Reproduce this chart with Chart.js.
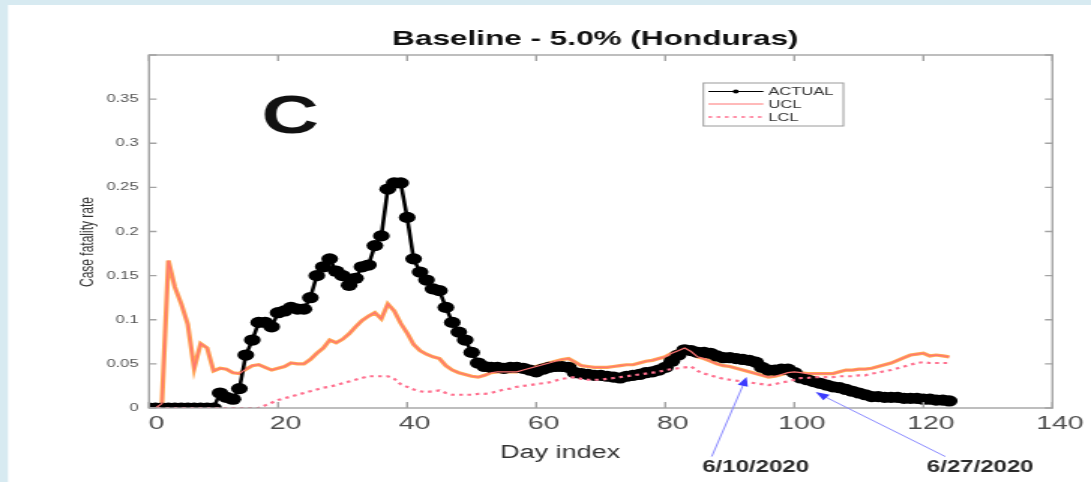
<!DOCTYPE html>
<html>
<head>
<meta charset="utf-8">
<script src="https://cdn.jsdelivr.net/npm/chart.js@4.4.1/dist/chart.umd.min.js"></script>
<style>
  html, body { margin: 0; padding: 0; background: #d7eaf1; overflow: hidden; }
  canvas { display: block; }
</style>
</head>
<body>
<!-- the source figure is stretched sideways, so draw narrow and widen with CSS -->
<canvas id="cfrChart" width="727" height="482" style="width:1091px;height:482px"></canvas>
<script>
// =======================
// Data (one value per day index)
// =======================

const ACTUAL = [
  0, 0, 0, 0, 0, 0, 0, 0, 0, 0, 0,
  0.017, 0.012, 0.010, 0.022, 0.060, 0.077, 0.097, 0.097, 0.092, 0.108,
  0.110, 0.114, 0.112, 0.112, 0.125, 0.150, 0.160, 0.169, 0.155, 0.150,
  0.139, 0.147, 0.160, 0.162, 0.184, 0.195, 0.248, 0.255, 0.255, 0.216,
  0.169, 0.154, 0.145, 0.135, 0.133, 0.114, 0.097, 0.086, 0.077, 0.063,
  0.051, 0.047, 0.046, 0.046, 0.045, 0.046, 0.046, 0.045, 0.043, 0.041,
  0.044, 0.046, 0.047, 0.047, 0.046, 0.040, 0.039, 0.038, 0.037, 0.037,
  0.036, 0.035, 0.034, 0.036, 0.037, 0.038, 0.040, 0.041, 0.043, 0.046,
  0.053, 0.060, 0.066, 0.065, 0.063, 0.063, 0.062, 0.059, 0.057, 0.057,
  0.056, 0.055, 0.054, 0.052, 0.046, 0.043, 0.043, 0.044, 0.044, 0.040,
  0.034, 0.032, 0.030, 0.028, 0.026, 0.024, 0.023, 0.021, 0.019, 0.017,
  0.015, 0.013, 0.013, 0.012, 0.012, 0.012, 0.011, 0.011, 0.011, 0.010,
  0.010, 0.009, 0.009, 0.008
];

const UCL = [
  0, 0, 0.005, 0.167, 0.137, 0.118, 0.095, 0.045, 0.073, 0.068, 0.042,
  0.045, 0.044, 0.040, 0.039, 0.044, 0.048, 0.049, 0.046, 0.043, 0.045,
  0.047, 0.051, 0.050, 0.050, 0.055, 0.062, 0.068, 0.077, 0.074, 0.078,
  0.084, 0.092, 0.099, 0.104, 0.108, 0.101, 0.118, 0.110, 0.096, 0.085,
  0.072, 0.065, 0.061, 0.058, 0.056, 0.048, 0.043, 0.040, 0.038, 0.036,
  0.035, 0.037, 0.040, 0.041, 0.041, 0.041, 0.041, 0.043, 0.045, 0.047,
  0.049, 0.051, 0.053, 0.055, 0.056, 0.052, 0.048, 0.047, 0.046, 0.046,
  0.046, 0.047, 0.048, 0.049, 0.049, 0.051, 0.053, 0.054, 0.056, 0.058,
  0.062, 0.065, 0.068, 0.064, 0.058, 0.056, 0.053, 0.050, 0.048, 0.047,
  0.045, 0.043, 0.041, 0.039, 0.037, 0.035, 0.036, 0.038, 0.040, 0.041,
  0.040, 0.039, 0.039, 0.039, 0.039, 0.039, 0.041, 0.043, 0.043, 0.044,
  0.044, 0.045, 0.047, 0.049, 0.051, 0.054, 0.057, 0.060, 0.061, 0.062,
  0.059, 0.060, 0.059, 0.058
];

const LCL = [
  0, 0, 0, 0, 0, 0, 0, 0, 0, 0, 0,
  0, 0, 0, 0, 0, 0, 0, 0.003, 0.006, 0.009,
  0.011, 0.013, 0.015, 0.017, 0.019, 0.021, 0.023, 0.024, 0.026, 0.028,
  0.030, 0.032, 0.034, 0.036, 0.036, 0.036, 0.036, 0.033, 0.027, 0.024,
  0.021, 0.019, 0.018, 0.019, 0.020, 0.017, 0.015, 0.015, 0.015, 0.015,
  0.016, 0.016, 0.017, 0.019, 0.021, 0.022, 0.024, 0.025, 0.026, 0.027,
  0.028, 0.029, 0.031, 0.033, 0.034, 0.035, 0.033, 0.032, 0.032, 0.032,
  0.033, 0.034, 0.035, 0.036, 0.037, 0.038, 0.039, 0.040, 0.041, 0.043,
  0.044, 0.045, 0.046, 0.047, 0.042, 0.039, 0.037, 0.035, 0.033, 0.032,
  0.031, 0.030, 0.029, 0.028, 0.027, 0.026, 0.027, 0.029, 0.030, 0.032,
  0.034, 0.034, 0.035, 0.035, 0.035, 0.035, 0.036, 0.036, 0.036, 0.037,
  0.037, 0.039, 0.040, 0.042, 0.043, 0.045, 0.047, 0.049, 0.051, 0.052,
  0.051, 0.051, 0.051, 0.051
];

const days = ACTUAL.map((_, i) => i);

const xTickStep = 20;
const yTickStep = 0.05;
const yLabelMax = 0.35;

// date call-outs below the axis (day index / rate coordinates)
const notes = [
  { text: "6/10/2020", day: 94.0, value: -0.067, fromDay: 87.2, fromValue: -0.055, toDay: 92.6, toValue: 0.035 },
  { text: "6/27/2020", day: 128.8, value: -0.067, fromDay: 123.4, fromValue: -0.055, toDay: 103.3, toValue: 0.018 }
];

const toPoints = arr => arr.map((v, i) => ({ x: days[i], y: v }));

Chart.defaults.font.family = "'Liberation Sans', Arial, sans-serif";

// =======================
// Extra drawing: frame, box ticks, title, legend, notes
// =======================

const decor = {
  id: "decor",
  beforeDraw(chart) {
    const ctx = chart.ctx;
    ctx.save();
    ctx.fillStyle = "#d7eaf1";
    ctx.fillRect(0, 0, chart.width, chart.height);
    ctx.fillStyle = "#ffffff";
    ctx.fillRect(5.3, 5, chart.width, chart.height);
    ctx.restore();
  },
  afterDraw(chart) {
    const ctx = chart.ctx;
    const a = chart.chartArea;
    const xs = chart.scales.x;
    const ys = chart.scales.y;
    ctx.save();

    // box with inward ticks
    ctx.strokeStyle = "#a3a3a3";
    ctx.lineWidth = 1.4;
    ctx.strokeRect(a.left, a.top, a.right - a.left, a.bottom - a.top);
    ctx.beginPath();
    xs.ticks.forEach(t => {
      const px = xs.getPixelForValue(t.value);
      ctx.moveTo(px, a.bottom); ctx.lineTo(px, a.bottom - 6);
      ctx.moveTo(px, a.top); ctx.lineTo(px, a.top + 6);
    });
    ys.ticks.forEach(t => {
      const py = ys.getPixelForValue(t.value);
      ctx.moveTo(a.left, py); ctx.lineTo(a.left + 5, py);
      ctx.moveTo(a.right, py); ctx.lineTo(a.right - 5, py);
    });
    ctx.stroke();

    // title
    ctx.fillStyle = "#111";
    ctx.textAlign = "center";
    ctx.textBaseline = "alphabetic";
    ctx.font = "bold 21px 'Liberation Sans', Arial, sans-serif";
    ctx.fillText("Baseline - 5.0% (Honduras)", 396.7, 45);

    // panel letter
    ctx.font = "bold 53px 'Liberation Sans', Arial, sans-serif";
    ctx.fillText("C", 193.5, 133);

    // axis titles
    ctx.fillStyle = "#333";
    ctx.font = "18px 'Liberation Sans', Arial, sans-serif";
    ctx.textBaseline = "middle";
    ctx.fillText("Day index", 373.3, 453);
    ctx.save();
    ctx.translate(58.7, 242);
    ctx.rotate(-Math.PI / 2);
    ctx.font = "12px 'Liberation Sans', Arial, sans-serif";
    ctx.fillText("Case fatality rate", 0, 0);
    ctx.restore();

    // legend
    const lx = 468.7, ly = 83, lw = 93.3, lh = 43;
    ctx.fillStyle = "#fff";
    ctx.fillRect(lx, ly, lw, lh);
    ctx.strokeStyle = "#9a9a9a";
    ctx.lineWidth = 1;
    ctx.strokeRect(lx, ly, lw, lh);
    const rows = [
      { ds: chart.data.datasets[2], y: 91.5 },
      { ds: chart.data.datasets[1], y: 104 },
      { ds: chart.data.datasets[0], y: 117 }
    ];
    ctx.font = "11px 'Liberation Sans', Arial, sans-serif";
    ctx.textAlign = "left";
    rows.forEach(r => {
      ctx.strokeStyle = r.ds.borderColor;
      ctx.lineWidth = r.ds.label === "LCL" ? 1.5 : 1;
      ctx.setLineDash(r.ds.borderDash || []);
      ctx.beginPath();
      ctx.moveTo(472, r.y); ctx.lineTo(508.7, r.y);
      ctx.stroke();
      ctx.setLineDash([]);
      if (r.ds.label === "ACTUAL") {
        ctx.fillStyle = "#000";
        ctx.beginPath();
        ctx.arc(490.3, r.y, 2, 0, Math.PI * 2);
        ctx.fill();
      }
      ctx.fillStyle = "#333";
      ctx.fillText(r.ds.label, 512, r.y + 0.5);
    });

    // date call-outs with arrows
    notes.forEach(n => {
      const x0 = xs.getPixelForValue(n.fromDay), y0 = ys.getPixelForValue(n.fromValue);
      const x1 = xs.getPixelForValue(n.toDay), y1 = ys.getPixelForValue(n.toValue);
      const ang = Math.atan2(y1 - y0, x1 - x0);
      ctx.strokeStyle = "#8a8aff";
      ctx.lineWidth = 1;
      ctx.beginPath();
      ctx.moveTo(x0, y0);
      ctx.lineTo(x1 - 8 * Math.cos(ang), y1 - 8 * Math.sin(ang));
      ctx.stroke();
      ctx.fillStyle = "#3c3cff";
      ctx.beginPath();
      ctx.moveTo(x1, y1);
      ctx.lineTo(x1 - 9 * Math.cos(ang) + 3.5 * Math.sin(ang), y1 - 9 * Math.sin(ang) - 3.5 * Math.cos(ang));
      ctx.lineTo(x1 - 9 * Math.cos(ang) - 3.5 * Math.sin(ang), y1 - 9 * Math.sin(ang) + 3.5 * Math.cos(ang));
      ctx.closePath();
      ctx.fill();

      ctx.fillStyle = "#2a2a2a";
      ctx.font = "bold 16px 'Liberation Sans', Arial, sans-serif";
      ctx.textAlign = "center";
      ctx.textBaseline = "middle";
      ctx.fillText(n.text, xs.getPixelForValue(n.day), ys.getPixelForValue(n.value));
    });

    ctx.restore();
  }
};

// =======================
// Line Chart
// =======================

const cfrChart = document.getElementById("cfrChart");

if (cfrChart) {
  new Chart(cfrChart, {
    type: "line",
    data: {
      datasets: [
        {
          label: "LCL",
          data: toPoints(LCL),
          borderColor: "#ff6f8e",
          borderWidth: 2.2,
          borderDash: [2.5, 3],
          pointRadius: 0
        },
        {
          label: "UCL",
          data: toPoints(UCL),
          borderColor: "#ff7474",
          borderWidth: 1.2,
          pointRadius: 0
        },
        {
          label: "ACTUAL",
          data: toPoints(ACTUAL),
          borderColor: "#000000",
          backgroundColor: "#000000",
          borderWidth: 2.6,
          pointRadius: 5.6,
          pointBorderWidth: 0,
          pointBackgroundColor: "#000000"
        },
        {
          label: "UCL band",
          data: toPoints(UCL),
          borderColor: "#ffa552",
          borderWidth: 3.2,
          pointRadius: 0
        }
      ]
    },
    options: {
      responsive: false,
      animation: false,
      events: [],
      layout: { padding: { top: 55, right: 25.7, left: 0, bottom: 0 } },
      plugins: {
        legend: { display: false },
        tooltip: { enabled: false }
      },
      scales: {
        x: {
          type: "linear",
          min: 0,
          max: 140,
          afterFit: s => { s.height = 74; },
          grid: { display: false, drawTicks: false },
          border: { display: false },
          ticks: {
            stepSize: xTickStep,
            maxRotation: 0,
            padding: 4,
            labelOffset: 5,
            color: "#4e4e4e",
            font: { size: 19 }
          }
        },
        y: {
          min: 0,
          max: 0.4,
          afterFit: s => { s.width = 99.3; },
          grid: { display: false, drawTicks: false },
          border: { display: false },
          ticks: {
            stepSize: yTickStep,
            padding: 7,
            color: "#555",
            font: { size: 11 },
            callback: v => (v > yLabelMax + 0.001 ? "" : +v.toFixed(2))
          }
        }
      }
    },
    plugins: [decor]
  });
}
</script>
</body>
</html>
